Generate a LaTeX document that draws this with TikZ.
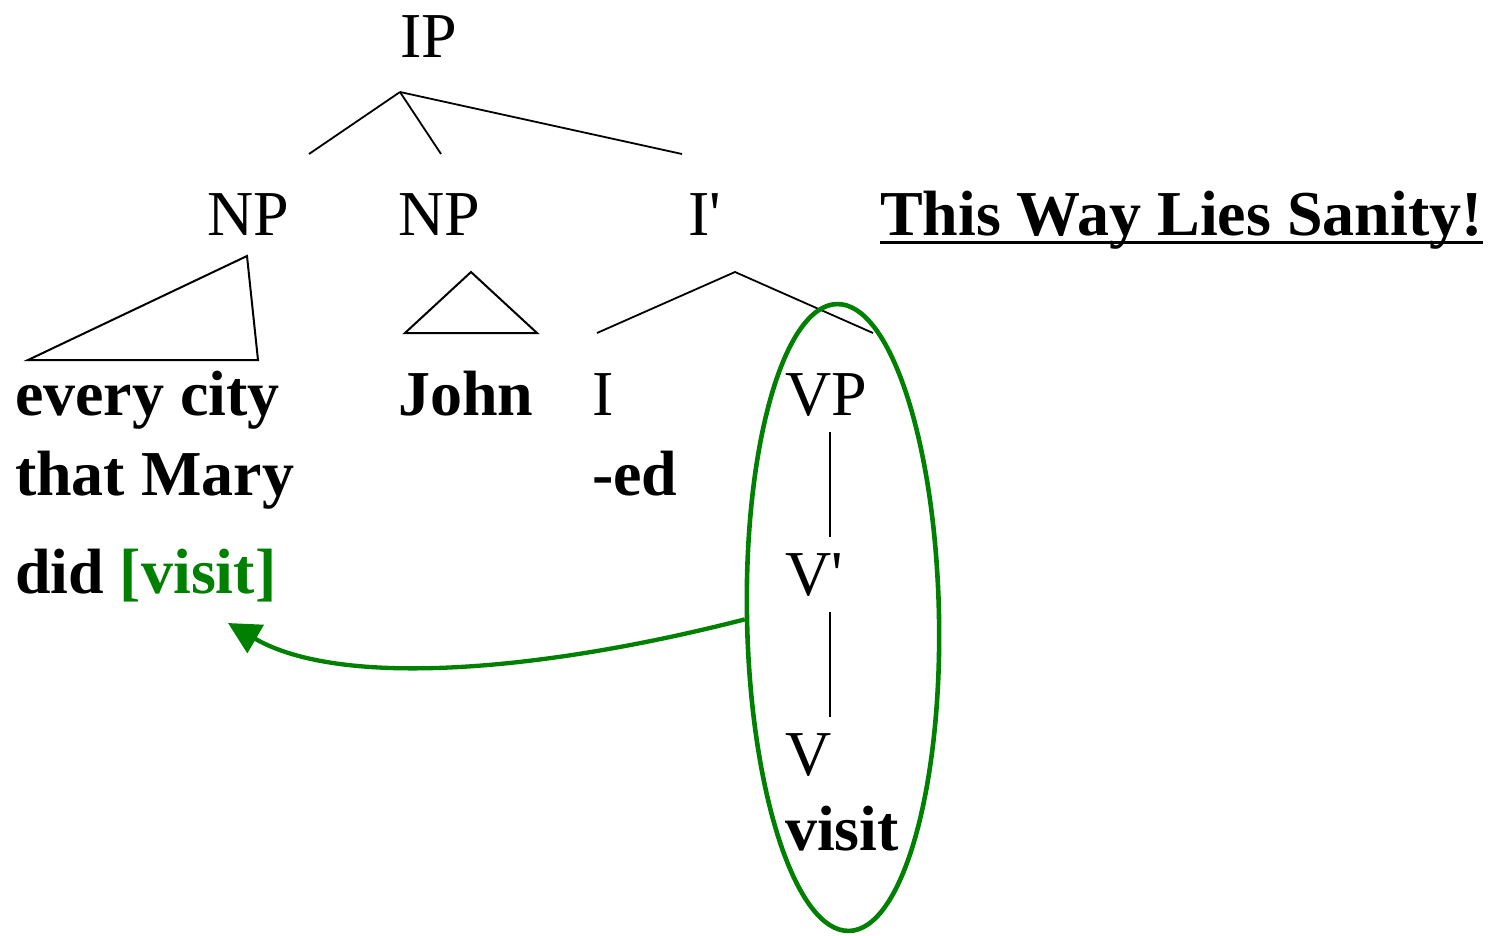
\documentclass[tikz,border=0pt]{standalone}
\usepackage{fontspec}
\newfontfamily\tms{Liberation Serif}
\usetikzlibrary{shapes.geometric,arrows.meta}
\definecolor{dgreen}{RGB}{0,128,0}
\begin{document}
\begin{tikzpicture}[x=1pt,y=-1pt,
  lbl/.style={anchor=base west,inner sep=0pt,outer sep=0pt,font=\tms\fontsize{64}{70}\selectfont},
  wrd/.style={lbl,font=\tms\bfseries\fontsize{64}{70}\selectfont},
  br/.style={line width=1.8pt,black},
  vline/.style={line width=2.6pt,black},
  tri/.style={line width=2pt,black,line join=miter}]
\useasboundingbox (0,0) rectangle (1489,935);
% labels
\node[lbl] (IP) at (400,57) {IP};
\node[lbl] (NP1) at (207,235) {NP};
\node[lbl] (NP2) at (398,235) {NP};
\node[lbl] (Ibar) at (688,235) {I'};
\node[wrd] (w1) at (15,415) {every city};
\node[wrd] (w2) at (15,495) {that Mary};
\node[wrd] (w3) at (15,593) {did \textcolor{dgreen}{[visit]}};
\node[wrd] (john) at (398,415) {John};
\node[lbl] (I) at (592,415) {I};
\node[wrd] (ed) at (592,495) {-ed};
\node[lbl] (VP) at (785,415) {VP};
\node[lbl] (Vbar) at (785,595) {V'};
\node[lbl] (V) at (785,775) {V};
\node[wrd] (visit) at (785,850) {visit};
\node[wrd] (title) at (880,235) {This Way Lies Sanity!};
\draw[line width=3pt] ([yshift=-7.5pt]title.base west) -- ([yshift=-7.5pt]title.base east);
% branch points
\coordinate (ipb) at (400,92);
\coordinate (np1t) at (309,154);
\coordinate (np2t) at (441,154);
\coordinate (ibt) at (682,154);
\coordinate (ibb) at (735,272);
\coordinate (it) at (597,333);
\coordinate (vpt) at (873,333);
\draw[br] (ipb) -- (np1t);
\draw[br] (ipb) -- (np2t);
\draw[br] (ipb) -- (ibt);
\draw[br] (it) -- (ibb) -- (vpt);
% triangles
\coordinate (t1a) at (247,256);
\coordinate (t1b) at (28,360);
\coordinate (t1c) at (258,360);
\draw[tri] (t1a) -- (t1b) -- (t1c) -- cycle;
\coordinate (t2a) at (471,272);
\coordinate (t2b) at (405,333);
\coordinate (t2c) at (537,333);
\draw[tri] (t2a) -- (t2b) -- (t2c) -- cycle;
% vertical lines
\coordinate (l1a) at (830,432);
\coordinate (l1b) at (830,537);
\coordinate (l2a) at (830,612);
\coordinate (l2b) at (830,717);
\draw[vline] (l1a) -- (l1b);
\draw[vline] (l2a) -- (l2b);
% ellipse
\node[ellipse,draw=dgreen,line width=4.6pt,minimum width=192pt,minimum height=627pt,inner sep=0pt,rotate=1.1] (ell) at (843,617.5) {};
% arrow
\coordinate (tip) at (228,623);
\draw[dgreen,line width=4.3pt,-{Triangle[length=32pt,width=32pt]}] (ell.west) .. controls (540,672) and (340,688) .. (tip);
\end{tikzpicture}
\end{document}
